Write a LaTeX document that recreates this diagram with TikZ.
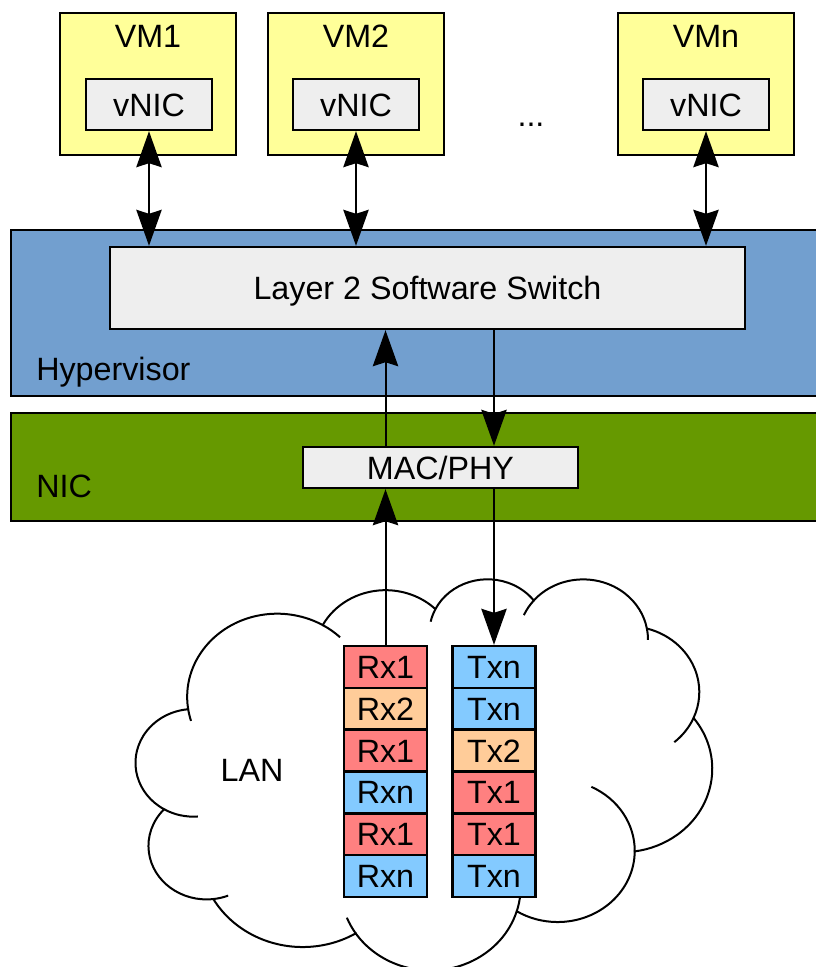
\documentclass[tikz,border=0pt]{standalone}
\usepackage{fontspec}
\setmainfont{Liberation Sans}
\usetikzlibrary{arrows.meta}
\definecolor{vmyellow}{HTML}{FFFF99}
\definecolor{boxgrey}{HTML}{EEEEEE}
\definecolor{hypblue}{HTML}{729FCF}
\definecolor{nicgreen}{HTML}{669900}
\definecolor{cred}{HTML}{FF8080}
\definecolor{corange}{HTML}{FFCC99}
\definecolor{cblue}{HTML}{83CAFF}
\begin{document}
\begin{tikzpicture}[x=0.75pt,y=-0.75pt,
  font=\fontsize{24.2}{29}\selectfont,
  >={Stealth[length=27pt,width=19pt,inset=3pt]},
  box/.style={draw=black,line width=1.8pt,inner sep=0pt,text height=17.3pt,text depth=0pt},
  lbl/.style={inner sep=0pt},
  cell/.style={box,minimum width=62.25pt,minimum height=31.375pt},
  conn/.style={line width=1.5pt}]
\clip (0,0) rectangle (816,967);
% ---- VMs
\node[box,fill=vmyellow,minimum width=132pt,minimum height=106.5pt] (vm1) at (148,84) {};
\node[box,fill=vmyellow,minimum width=132pt,minimum height=106.5pt] (vm2) at (356,84) {};
\node[box,fill=vmyellow,minimum width=132pt,minimum height=106.5pt] (vmn) at (706,84) {};
\node[lbl,anchor=base] (vm1t) at (148,47) {VM1};
\node[lbl,anchor=base] (vm2t) at (356,47) {VM2};
\node[lbl,anchor=base] (vmnt) at (706,47) {VMn};
\node[box,fill=boxgrey,minimum width=94.5pt,minimum height=38.25pt] (vnic1) at (149,104.5) {vNIC};
\node[box,fill=boxgrey,minimum width=94.5pt,minimum height=38.25pt] (vnic2) at (356,104.5) {vNIC};
\node[box,fill=boxgrey,minimum width=94.5pt,minimum height=38.25pt] (vnicn) at (706,104.5) {vNIC};
\node[lbl,anchor=base] (dots) at (531,126) {...};
% ---- Hypervisor
\node[box,fill=hypblue,minimum width=614.25pt,minimum height=124.5pt] (hyp) at (420.5,313) {};
\node[lbl,anchor=base west] (hypt) at (36,380) {Hypervisor};
\node[box,fill=boxgrey,minimum width=476.25pt,minimum height=61.5pt] (sw) at (427.5,288) {Layer 2 Software Switch};
% ---- NIC
\node[box,fill=nicgreen,minimum width=614.25pt,minimum height=81pt] (nic) at (420.5,467) {};
\node[lbl,anchor=base west] (nict) at (36,497) {NIC};
\node[box,fill=boxgrey,minimum width=206.25pt,minimum height=30.75pt] (mac) at (440.5,467.5) {MAC/PHY};
% ---- Cloud (LAN)
\begin{scope}[shift={(136,578)},x=1pt,y=-0.6788pt,line width=1.5pt]
\draw[fill=white] (39.00,143.70)
  arc[start angle=172.254,delta angle=128.111,x radius=67.53,y radius=91.90]
  arc[start angle=-152.022,delta angle=106.586,x radius=53.33,y radius=72.67]
  arc[start angle=-153.482,delta angle=116.143,x radius=43.65,y radius=59.45]
  arc[start angle=-139.693,delta angle=129.481,x radius=48.57,y radius=65.95]
  arc[start angle=-74.768,delta angle=97.976,x radius=53.33,y radius=72.73]
  arc[start angle=-37.539,delta angle=119.402,x radius=67.75,y radius=92.20]
  arc[start angle=0.4596,delta angle=121.517,x radius=57.85,y radius=78.67]
  arc[start angle=16.845,delta angle=129.407,x radius=67.52,y radius=92.15]
  arc[start angle=58.982,delta angle=91.218,x radius=77.20,y radius=105.43]
  arc[start angle=83.306,delta angle=139.783,x radius=43.60,y radius=59.18]
  arc[start angle=120.359,delta angle=143.753,x radius=43.45,y radius=59.45]
  -- cycle;
\draw (41.269,157.893) arc[start angle=163.19,end angle=172.254,x radius=67.53,y radius=91.90];
\draw (140.066,52.034) arc[start angle=-59.635,end angle=-45.74,x radius=67.53,y radius=91.90];
\draw (220.994,48.245) arc[start angle=-167.72,end angle=-153.482,x radius=43.65,y radius=59.45];
\draw (290.922,40.965) arc[start angle=-156.28,end angle=-139.693,x radius=48.57,y radius=65.95];
\draw (383.19,55.801) arc[start angle=-10.212,end angle=0.821,x radius=48.57,y radius=65.95];
\draw (418.193,154.636) arc[start angle=23.208,end angle=49.64,x radius=53.33,y radius=72.73];
\draw (341.545,230.727) arc[start angle=-64.03,end angle=0.4596,x radius=57.85,y radius=78.67];
\draw (288.243,349.091) arc[start angle=4.735,end angle=16.845,x radius=67.52,y radius=92.15];
\draw (164.809,392.674) arc[start angle=146.252,end angle=158.47,x radius=67.52,y radius=92.15];
\draw (69.126,350.897) arc[start angle=68.23,end angle=83.306,x radius=43.60,y radius=59.18];
\draw (46.454,263.490) arc[start angle=85.54,end angle=120.359,x radius=43.45,y radius=59.45];
\end{scope}
\node[lbl] (lan) at (252,770) {LAN};
% ---- Queues
\foreach \i/\t/\c in {1/Rx1/cred,2/Rx2/corange,3/Rx1/cred,4/Rxn/cblue,5/Rx1/cred,6/Rxn/cblue}
  \node[cell,fill=\c] (r\i) at (385.5,{646+41.83*(\i-0.5)}) {\t};
\foreach \i/\t/\c in {1/Txn/cblue,2/Txn/cblue,3/Tx2/corange,4/Tx1/cred,5/Tx1/cred,6/Txn/cblue}
  \node[cell,fill=\c] (t\i) at (494,{646+41.83*(\i-0.5)}) {\t};
% ---- Connectors
\draw[conn,<->] (vnic1.south) -- (vnic1.south |- sw.north);
\draw[conn,<->] (vnic2.south) -- (vnic2.south |- sw.north);
\draw[conn,<->] (vnicn.south) -- (vnicn.south |- sw.north);
\draw[conn,->] (r1.north) -- (r1.north |- mac.south);
\draw[conn,->] (mac.north -| r1.north) -- (r1.north |- sw.south);
\draw[conn,->] (sw.south -| t1.north) -- (t1.north |- mac.north);
\draw[conn,->] (mac.south -| t1.north) -- (t1.north);
\end{tikzpicture}
\end{document}
